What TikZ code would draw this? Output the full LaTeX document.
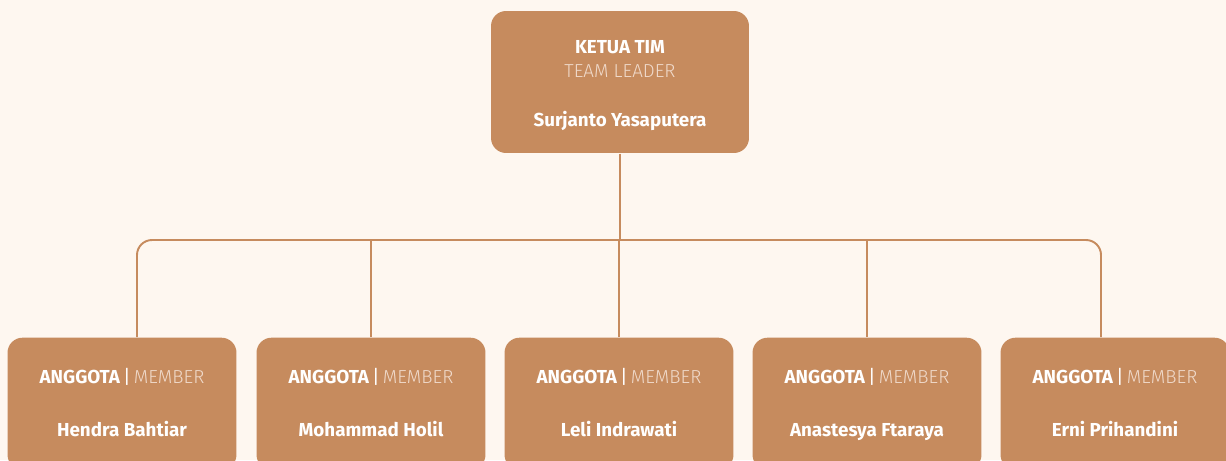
\documentclass[tikz,border=0pt]{standalone}
\usepackage{fontspec}
\setmainfont{Fira Sans}
\newfontfamily\lightfont{Fira Sans Light}
\usetikzlibrary{positioning}
\definecolor{bgcream}{HTML}{FEF7F0}
\definecolor{boxbrown}{HTML}{C68B5E}
\definecolor{softtext}{HTML}{F0DACB}

\begin{document}
\begin{tikzpicture}[x=0.02cm, y=-0.02cm, thick]

		\tikzstyle{leadbox}=[rectangle, rounded corners=0.3cm, fill=boxbrown, minimum width=5.16cm, minimum height=2.84cm, inner sep=0pt]
		\tikzstyle{memberbox}=[rectangle, rounded corners=0.3cm, fill=boxbrown, minimum width=4.58cm, minimum height=2.64cm, inner sep=0pt, anchor=north]
		\tikzstyle{boldtext}=[anchor=base, text=white, font=\fontsize{10.7}{12}\selectfont\bfseries, inner sep=0pt]
		\tikzstyle{softline}=[anchor=base, text=softtext, font=\fontsize{10.7}{12}\selectfont\lightfont\mdseries, inner sep=0pt]
		\tikzstyle{link}=[draw=boxbrown, line width=1.1pt]

		\fill[bgcream] (0,0) rectangle (1226,460);
		\clip (0,0) rectangle (1226,460);

		% Team leader
		\node[leadbox] (lead) at (620,82) {};
		\node[boldtext] (leadrole) at (620,53) {KETUA TIM};
		\node[softline] (leadeng) at (620,77) {TEAM LEADER};
		\node[boldtext] (leadname) at (620,126) {Surjanto Yasaputera};

		% Members
		\foreach \i/\x/\name in {1/122/Hendra Bahtiar, 2/371/Mohammad Holil, 3/619/Leli Indrawati, 4/867/Anastesya Ftaraya, 5/1115/Erni Prihandini}{
			\node[memberbox] (m\i) at (\x,337) {};
			\node[boldtext] (role\i) at (\x,383) {ANGGOTA\,{\mdseries\color{white}|}\,{\lightfont\mdseries\color{softtext}MEMBER}};
			\node[boldtext] (name\i) at (\x,436) {\name};
		}

		% Links
		\coordinate (bus) at (620,240);
		\draw[link] (lead.south) -- (bus);
		\draw[link, rounded corners=0.3cm] ([xshift=0.3cm]m1.north) |- (bus) -| ([xshift=-0.28cm]m5.north);
		\foreach \i in {2,3,4}
			\draw[link] (m\i.north) -- (m\i.north |- bus);

\end{tikzpicture}
\end{document}
